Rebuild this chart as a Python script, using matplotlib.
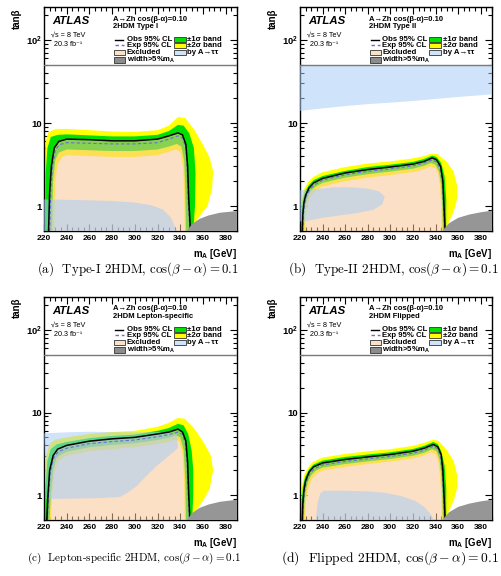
import matplotlib
matplotlib.use("Agg")
import matplotlib.pyplot as plt
from matplotlib.patches import Rectangle
from matplotlib.lines import Line2D
from matplotlib.ticker import MultipleLocator, FixedLocator, NullFormatter

plt.rcParams['font.family'] = ['Liberation Sans', 'DejaVu Sans']
plt.rcParams['mathtext.fontset'] = 'custom'
plt.rcParams['mathtext.rm'] = 'Liberation Sans'
plt.rcParams['mathtext.bf'] = 'Liberation Sans:bold'
plt.rcParams['mathtext.it'] = 'Liberation Sans:italic'

# ---------------- data ----------------
panel_models = ["2HDM Type I", "2HDM Type II", "2HDM Lepton-specific", "2HDM Flipped"]
captions = [r"(a)  Type-I 2HDM, $\cos(\beta-\alpha)=0.1$",
            r"(b)  Type-II 2HDM, $\cos(\beta-\alpha)=0.1$",
            r"(c)  Lepton-specific 2HDM, $\cos(\beta-\alpha)=0.1$",
            r"(d)  Flipped 2HDM, $\cos(\beta-\alpha)=0.1$"]
x_ticks = [220, 240, 260, 280, 300, 320, 340, 360, 380]
y_ticks = [1, 10, 100]
y_ticklabels = ["1", "10", r"$\mathbf{10^{2}}$"]
width_line_tanb = 50

# Type I
I_obs_x = [224, 225, 226.5, 229, 233, 240, 260, 280, 300, 320, 330, 338, 342, 345, 346.5, 347.5, 349]
I_obs_y = [0.5, 1.5, 3.0, 5.0, 6.0, 6.4, 6.3, 6.1, 6.1, 6.4, 7.0, 7.6, 7.2, 5.5, 3.0, 1.2, 0.5]
I_exp_x = [225, 226, 227.5, 230, 234, 240, 260, 280, 300, 320, 330, 338, 342, 345, 346, 347, 348.5]
I_exp_y = [0.5, 1.5, 3.0, 4.8, 5.5, 5.8, 5.7, 5.6, 5.6, 5.8, 6.4, 7.0, 6.6, 5.0, 3.0, 1.2, 0.5]
I_p2_x = [220, 220, 221.5, 224, 230, 240, 260, 280, 300, 320, 330, 338, 344, 352, 360, 366, 369, 368, 364, 357, 352, 350]
I_p2_y = [0.5, 3.0, 6.0, 7.8, 8.4, 8.5, 8.2, 7.9, 7.8, 8.2, 9.3, 11.8, 11.5, 8.5, 5.5, 3.8, 2.6, 1.6, 1.0, 0.75, 0.6, 0.5]
I_p1_x = [221, 221.5, 223, 226, 232, 240, 260, 280, 300, 320, 330, 338, 343, 348, 352, 353.5, 353, 351.5]
I_p1_y = [0.5, 2.5, 5.0, 6.8, 7.2, 7.3, 7.1, 6.9, 6.9, 7.2, 8.0, 9.5, 9.3, 7.5, 5.0, 2.5, 1.0, 0.5]
I_m1_x = [227, 228, 230, 233, 240, 260, 280, 300, 320, 330, 337, 341, 343.5, 344.5, 345]
I_m1_y = [0.5, 2.0, 3.6, 4.4, 4.8, 4.7, 4.6, 4.6, 4.8, 5.2, 5.6, 5.2, 3.5, 1.5, 0.5]
I_m2_x = [229, 230, 232, 236, 240, 260, 280, 300, 320, 330, 336, 340, 342.5, 343.5, 344]
I_m2_y = [0.5, 2.0, 3.2, 3.9, 4.1, 4.0, 3.9, 3.9, 4.1, 4.5, 4.8, 4.5, 3.0, 1.4, 0.5]
I_tau_x = [[220, 220, 250, 280, 300, 315, 325, 332, 337]]
I_tau_y = [[0.5, 1.2, 1.18, 1.15, 1.1, 1.02, 0.9, 0.72, 0.5]]
I_wid_x = [346, 350, 357, 365, 375, 390, 390]
I_wid_y = [0.5, 0.6, 0.7, 0.77, 0.83, 0.87, 0.5]

# Type II
II_obs_x = [222, 222.5, 223.5, 225, 228, 232, 240, 260, 280, 300, 320, 330, 337, 341, 344.5, 346.5, 347.5, 348.5]
II_obs_y = [0.5, 0.8, 1.1, 1.35, 1.65, 1.9, 2.15, 2.5, 2.75, 2.95, 3.2, 3.45, 3.8, 3.6, 3.0, 2.0, 1.0, 0.5]
II_exp_x = [222.5, 223, 224, 225.5, 228.5, 232.5, 240, 260, 280, 300, 320, 330, 337, 341, 344, 346, 347, 348]
II_exp_y = [0.5, 0.8, 1.05, 1.3, 1.57, 1.8, 2.05, 2.38, 2.62, 2.8, 3.05, 3.3, 3.6, 3.4, 2.8, 1.9, 1.0, 0.5]
II_p2_x = [220.5, 221, 222, 224, 228, 232, 240, 260, 280, 300, 320, 330, 337, 342, 350, 356, 359, 359, 356, 352, 350]
II_p2_y = [0.5, 0.9, 1.3, 1.65, 2.0, 2.25, 2.55, 2.95, 3.25, 3.45, 3.75, 4.0, 4.3, 4.2, 3.4, 2.6, 1.8, 1.2, 0.85, 0.65, 0.5]
II_p1_x = [221, 221.5, 222.5, 224.5, 228, 232, 240, 260, 280, 300, 320, 330, 337, 341, 345, 348, 349.5, 349.5]
II_p1_y = [0.5, 0.85, 1.2, 1.5, 1.8, 2.05, 2.3, 2.65, 2.95, 3.15, 3.4, 3.7, 4.05, 3.9, 3.3, 2.3, 1.2, 0.5]
II_m1_x = [223.5, 224, 225, 227, 230, 234, 240, 260, 280, 300, 320, 330, 336, 340, 343, 345, 346, 346.5]
II_m1_y = [0.5, 0.8, 1.05, 1.3, 1.55, 1.72, 1.9, 2.2, 2.42, 2.6, 2.82, 3.05, 3.3, 3.15, 2.6, 1.8, 1.0, 0.5]
II_m2_x = [224.5, 225, 226, 228, 231, 235, 240, 260, 280, 300, 320, 330, 336, 340, 342.5, 344, 345, 345.5]
II_m2_y = [0.5, 0.75, 0.95, 1.2, 1.42, 1.58, 1.72, 2.0, 2.2, 2.36, 2.56, 2.78, 3.0, 2.85, 2.4, 1.7, 1.0, 0.5]
II_tau_x = [[220, 240, 260, 280, 300, 320, 340, 360, 380, 390, 390, 220],
            [220, 220, 235, 250, 265, 280, 290, 295, 293, 285, 270, 255, 240, 228]]
II_tau_y = [[14, 15, 16, 16.9, 17.6, 18.4, 19.5, 20.6, 21.6, 22.2, 50, 50],
            [0.65, 1.55, 1.6, 1.68, 1.68, 1.62, 1.5, 1.3, 1.05, 0.9, 0.82, 0.77, 0.72, 0.67]]
II_wid_x = [346, 352, 360, 370, 380, 390, 390]
II_wid_y = [0.5, 0.62, 0.72, 0.79, 0.84, 0.88, 0.5]

# Lepton-specific
L_obs_x = [222.5, 223.5, 225, 228, 232, 240, 260, 280, 300, 320, 330, 338, 342, 345, 346.5, 347.5, 348.5]
L_obs_y = [0.5, 1.0, 2.0, 3.0, 3.6, 4.0, 4.5, 4.8, 5.0, 5.5, 5.8, 6.3, 5.8, 4.5, 2.5, 1.0, 0.5]
L_exp_x = [223, 224, 225.5, 228.5, 232.5, 240, 260, 280, 300, 320, 330, 338, 342, 344.5, 346, 347, 348]
L_exp_y = [0.5, 1.0, 1.9, 2.8, 3.35, 3.7, 4.2, 4.45, 4.65, 5.1, 5.4, 5.8, 5.4, 4.2, 2.4, 1.0, 0.5]
L_p2_x = [220, 220.5, 222, 225, 230, 240, 260, 280, 300, 320, 330, 338, 344, 352, 360, 367, 369, 366, 360, 354, 351]
L_p2_y = [0.5, 1.5, 3.0, 4.2, 4.7, 5.0, 5.5, 5.8, 6.0, 6.7, 7.5, 8.6, 8.4, 6.5, 4.5, 3.0, 2.0, 1.2, 0.85, 0.65, 0.5]
L_p1_x = [221, 221.5, 223, 226, 231, 240, 260, 280, 300, 320, 330, 338, 343, 347, 350, 351.5, 351.5, 350.5]
L_p1_y = [0.5, 1.3, 2.6, 3.6, 4.1, 4.4, 4.9, 5.2, 5.4, 6.0, 6.5, 7.3, 7.0, 5.5, 3.5, 2.0, 1.0, 0.5]
L_m1_x = [225, 226, 228, 231, 235, 240, 260, 280, 300, 320, 330, 336, 340, 343, 344.5, 345]
L_m1_y = [0.5, 1.0, 2.0, 2.8, 3.1, 3.35, 3.8, 4.05, 4.25, 4.65, 4.95, 5.3, 5.0, 3.5, 1.5, 0.5]
L_m2_x = [226, 227, 229, 232, 236, 240, 260, 280, 300, 320, 330, 335, 339, 342, 343.5, 344]
L_m2_y = [0.5, 0.9, 1.8, 2.5, 2.8, 3.0, 3.4, 3.6, 3.8, 4.15, 4.4, 4.7, 4.5, 3.2, 1.4, 0.5]
L_tau_x = [[222, 220, 240, 260, 280, 300, 320, 330, 337, 338, 330, 320, 310, 302, 295, 287, 270, 250, 230]]
L_tau_y = [[0.9, 5.6, 5.75, 5.85, 5.8, 5.75, 5.8, 5.8, 5.5, 3.7, 3.0, 2.3, 1.7, 1.3, 1.1, 0.95, 0.92, 0.91, 0.9]]
L_wid_x = [346, 350, 357, 365, 375, 390, 390]
L_wid_y = [0.5, 0.6, 0.7, 0.77, 0.83, 0.88, 0.5]

# Flipped
F_obs_x = [222, 222.5, 223.5, 225, 228, 232, 240, 260, 280, 300, 320, 330, 338, 342, 345, 346.5, 347.5, 348.5]
F_obs_y = [0.5, 0.8, 1.15, 1.5, 1.9, 2.2, 2.45, 2.7, 2.9, 3.1, 3.4, 3.7, 4.1, 3.85, 3.1, 2.0, 1.0, 0.5]
F_exp_x = [222.5, 223, 224, 225.5, 228.5, 232.5, 240, 260, 280, 300, 320, 330, 338, 342, 344.5, 346, 347, 348]
F_exp_y = [0.5, 0.8, 1.1, 1.43, 1.8, 2.08, 2.32, 2.56, 2.75, 2.94, 3.22, 3.5, 3.9, 3.65, 2.9, 1.9, 1.0, 0.5]
F_p2_x = [220.5, 221, 222, 224, 228, 232, 240, 260, 280, 300, 320, 330, 338, 343, 350, 356, 359, 359, 356, 352, 350]
F_p2_y = [0.5, 0.9, 1.35, 1.8, 2.25, 2.55, 2.85, 3.15, 3.4, 3.6, 3.95, 4.3, 4.7, 4.5, 3.5, 2.6, 1.8, 1.2, 0.85, 0.65, 0.5]
F_p1_x = [221, 221.5, 222.5, 224.5, 228, 232, 240, 260, 280, 300, 320, 330, 338, 342, 345, 348, 349.5, 349.5]
F_p1_y = [0.5, 0.85, 1.25, 1.65, 2.05, 2.35, 2.62, 2.9, 3.1, 3.3, 3.62, 3.95, 4.4, 4.15, 3.4, 2.3, 1.2, 0.5]
F_m1_x = [223.5, 224, 225, 227, 230, 234, 240, 260, 280, 300, 320, 330, 337, 341, 343.5, 345, 346, 346.5]
F_m1_y = [0.5, 0.8, 1.1, 1.45, 1.75, 1.98, 2.15, 2.38, 2.56, 2.74, 3.0, 3.25, 3.6, 3.4, 2.7, 1.8, 1.0, 0.5]
F_m2_x = [224.5, 225, 226, 228, 231, 235, 240, 260, 280, 300, 320, 330, 336, 340, 342.5, 344, 345, 345.5]
F_m2_y = [0.5, 0.75, 1.0, 1.3, 1.6, 1.82, 1.98, 2.2, 2.38, 2.55, 2.78, 3.02, 3.3, 3.15, 2.5, 1.7, 1.0, 0.5]
F_tau_x = [[234, 235.5, 238, 241, 260, 280, 295, 310, 322, 330, 336, 338.5]]
F_tau_y = [[0.5, 0.8, 1.05, 1.13, 1.13, 1.11, 1.07, 0.97, 0.85, 0.72, 0.58, 0.5]]
F_wid_x = [346, 352, 360, 370, 380, 390, 390]
F_wid_y = [0.5, 0.62, 0.72, 0.79, 0.84, 0.88, 0.5]

# ---------------- styles ----------------
C_YEL = '#ffff00'
C_GRN = '#00e000'
C_PEACH = '#f9c796'
A_PEACH = 0.55
C_TAU = '#a8ccf6'
A_TAU = 0.55
C_WID = '#969696'
C_EXP = '#6b6bd6'

fig = plt.figure(figsize=(5.02, 5.76), dpi=100)
W, H = 502.0, 576.0
ax_rects = [
    [44 / W, 1 - 231 / H, 193 / W, 224 / H],
    [300 / W, 1 - 231 / H, 192 / W, 224 / H],
    [44 / W, 1 - 520 / H, 193 / W, 223 / H],
    [300 / W, 1 - 520 / H, 192 / W, 223 / H],
]

panels = [
    (I_obs_x, I_obs_y, I_exp_x, I_exp_y, I_p2_x, I_p2_y, I_p1_x, I_p1_y, I_m1_x, I_m1_y, I_m2_x, I_m2_y, I_tau_x, I_tau_y, I_wid_x, I_wid_y),
    (II_obs_x, II_obs_y, II_exp_x, II_exp_y, II_p2_x, II_p2_y, II_p1_x, II_p1_y, II_m1_x, II_m1_y, II_m2_x, II_m2_y, II_tau_x, II_tau_y, II_wid_x, II_wid_y),
    (L_obs_x, L_obs_y, L_exp_x, L_exp_y, L_p2_x, L_p2_y, L_p1_x, L_p1_y, L_m1_x, L_m1_y, L_m2_x, L_m2_y, L_tau_x, L_tau_y, L_wid_x, L_wid_y),
    (F_obs_x, F_obs_y, F_exp_x, F_exp_y, F_p2_x, F_p2_y, F_p1_x, F_p1_y, F_m1_x, F_m1_y, F_m2_x, F_m2_y, F_tau_x, F_tau_y, F_wid_x, F_wid_y),
]


def band(ax, ux, uy, lx, ly, color):
    xs = list(ux) + list(lx)[::-1]
    ys = list(uy) + list(ly)[::-1]
    ax.fill(xs, ys, color=color, lw=0, zorder=2)


for k, (rect, data) in enumerate(zip(ax_rects, panels)):
    (ox, oy, ex, ey, p2x, p2y, p1x, p1y, m1x, m1y, m2x, m2y, tx, ty, wx, wy) = data
    ax = fig.add_axes(rect)
    ax.set_xlim(220, 390)
    ax.set_yscale('log')
    ax.set_ylim(0.5, 250)

    band(ax, p2x, p2y, m2x, m2y, C_YEL)
    band(ax, p1x, p1y, m1x, m1y, C_GRN)
    ax.fill(ox, oy, color=C_PEACH, alpha=A_PEACH, lw=0, zorder=3)
    for txi, tyi in zip(tx, ty):
        ax.fill(txi, tyi, color=C_TAU, alpha=A_TAU, lw=0, zorder=4)
    ax.plot(ex, ey, color=C_EXP, lw=0.8, ls=(0, (3, 2)), zorder=5)
    ax.plot(ox, oy, color='black', lw=1.1, zorder=6)
    ax.fill(wx, wy, color=C_WID, lw=0, zorder=7)
    ax.axhline(width_line_tanb, color='#7a7a7a', lw=1.0, zorder=7)

    # ticks
    ax.set_xticks(x_ticks)
    ax.xaxis.set_minor_locator(MultipleLocator(5))
    ax.yaxis.set_major_locator(FixedLocator(y_ticks))
    minors = [m * 10.0 ** d for d in (-1, 0, 1, 2) for m in range(2, 10)]
    ax.yaxis.set_minor_locator(FixedLocator([v for v in minors if 0.5 <= v <= 250]))
    ax.yaxis.set_minor_formatter(NullFormatter())
    ax.set_yticklabels(y_ticklabels, fontsize=6.8, fontweight='bold')
    ax.set_xticklabels([str(v) for v in x_ticks], fontsize=6, fontweight='bold')
    ax.tick_params(which='both', direction='in', top=True, right=True, width=0.8)
    ax.tick_params(which='major', length=5)
    ax.tick_params(which='minor', length=2.6)
    ax.tick_params(axis='x', pad=3)
    ax.tick_params(axis='y', pad=1.5)
    for s in ax.spines.values():
        s.set_linewidth(1.0)

    # labels
    hpx = rect[3] * H
    ax.text(1.0, -23 / hpx, r"m$_\mathbf{A}$ [GeV]", transform=ax.transAxes,
            ha='right', va='center', fontsize=7, fontweight='bold')
    fig.text(rect[0] - 27 / W, rect[1] + rect[3] - 1 / H, "tanβ", rotation=90,
             ha='center', va='top', fontsize=7, fontweight='bold')

    def fy(py):
        return 1 - (py - 7) / hpx

    def fx(px):
        return (px - 44) / 193.0

    ax.text(fx(52), fy(21), "ATLAS", transform=ax.transAxes, ha='left', va='center',
            fontsize=8.2, fontweight='bold', fontstyle='italic', zorder=10)
    ax.text(fx(51), fy(35.5), "√s = 8 TeV", transform=ax.transAxes, ha='left',
            va='center', fontsize=5.2, zorder=10)
    ax.text(fx(54), fy(44), "20.3 fb⁻¹", transform=ax.transAxes, ha='left',
            va='center', fontsize=5.2, zorder=10)
    ax.text(fx(113.3), fy(19), "A→Zh cos(β-α)=0.10", transform=ax.transAxes, ha='left',
            va='center', fontsize=5.5, fontweight='bold', zorder=10)
    ax.text(fx(113.3), fy(26.7), panel_models[k], transform=ax.transAxes, ha='left',
            va='center', fontsize=5.5, fontweight='bold', zorder=10)

    rows = [39.5, 45.3, 52.3, 60]
    # left column
    ax.add_line(Line2D([fx(115), fx(123.5)], [fy(rows[0])] * 2, transform=ax.transAxes,
                       color='black', lw=1.0, zorder=10))
    ax.add_line(Line2D([fx(115), fx(124)], [fy(rows[1])] * 2, transform=ax.transAxes,
                       color=C_EXP, lw=1.0, ls=(0, (2.5, 2)), zorder=10))
    bw, bh = 11 / 193.0, 5.2 / hpx
    for r, fc in ((rows[2], '#fce1c9'), (rows[3], '#8c8c8c')):
        ax.add_patch(Rectangle((fx(114), fy(r) - bh / 2), bw, bh, transform=ax.transAxes,
                               facecolor=fc, edgecolor='#333333', lw=0.6, zorder=10))
    left_labels = ["Obs 95% CL", "Exp 95% CL", "Excluded", r"width>5%m$_\mathbf{A}$"]
    for r, t in zip(rows, left_labels):
        ax.text(fx(126.7), fy(r), t, transform=ax.transAxes, ha='left', va='center',
                fontsize=5.6, fontweight='bold', zorder=10)
    # right column
    right_labels = ["±1σ band", "±2σ band", "by A→ττ"]
    right_cols = [C_GRN, C_YEL, '#cfe3fa']
    for r, t, fc in zip(rows[:3], right_labels, right_cols):
        ax.add_patch(Rectangle((fx(174), fy(r) - bh / 2), 12 / 193.0, bh, transform=ax.transAxes,
                               facecolor=fc, edgecolor='#333333', lw=0.6, zorder=10))
        ax.text(fx(187.3), fy(r), t, transform=ax.transAxes, ha='left', va='center',
                fontsize=5.6, fontweight='bold', zorder=10)

# captions: fit each caption to the width it spans in the reference
cap_spans = [(37, 239, 269), (288, 499, 269), (27, 241, 558), (281, 499, 558.5)]
renderer = fig.canvas.get_renderer()
for (x0, x1, yc), txt in zip(cap_spans, captions):
    t = fig.text(x0 / W, 1 - yc / H, txt, ha='left', va='center', fontsize=9,
                 family=['cmr10', 'DejaVu Serif'], math_fontfamily='cm')
    wpx = t.get_window_extent(renderer=renderer).width
    t.set_fontsize(9 * (x1 - x0) / wpx)

fig.savefig("out.png", dpi=100)
